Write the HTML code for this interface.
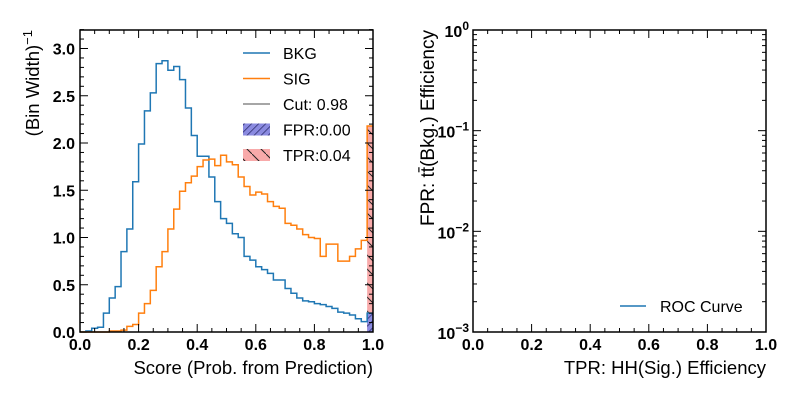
<!DOCTYPE html>
<html><head><meta charset="utf-8"><style>
body{margin:0;background:#fff;}
svg{display:block;font-family:"Liberation Sans",sans-serif;}
</style></head><body>
<svg id="c" width="800" height="400" xmlns="http://www.w3.org/2000/svg">
<defs>
<pattern id="hfpr" width="5" height="5" patternUnits="userSpaceOnUse" patternTransform="rotate(45)"><rect width="5" height="5" fill="#8a8ae0"/><line x1="0" y1="0" x2="0" y2="5" stroke="#202060" stroke-width="1.4"/></pattern>
<pattern id="htpr" width="14" height="14" patternUnits="userSpaceOnUse"><rect width="14" height="14" fill="#f8aaaa"/><line x1="0" y1="0" x2="14" y2="14" stroke="#222" stroke-width="1"/></pattern>
</defs>
</svg>
<script>
const bkg=[0,0.01,0.04,0.05,0.2,0.36,0.48,0.85,1.09,1.59,1.99,2.34,2.53,2.84,2.87,2.77,2.81,2.67,2.37,2.08,1.86,1.86,1.64,1.38,1.2,1.15,1.04,1.0,0.8,0.76,0.69,0.66,0.62,0.55,0.55,0.46,0.41,0.36,0.33,0.32,0.3,0.29,0.27,0.25,0.21,0.2,0.18,0.14,0.11,0.2];
const sig=[0,0,0,0,0,0.01,0.01,0.02,0.06,0.08,0.2,0.3,0.44,0.69,0.85,1.09,1.3,1.49,1.58,1.65,1.75,1.82,1.83,1.76,1.87,1.8,1.77,1.64,1.54,1.45,1.48,1.46,1.38,1.33,1.31,1.15,1.13,1.09,1.03,1.0,0.99,0.8,0.93,0.93,0.75,0.75,0.8,0.88,0.97,2.18];
const cut=0.98;
const xTicks=[0,0.2,0.4,0.6,0.8,1.0];
const yTicks=[0,0.5,1.0,1.5,2.0,2.5,3.0];
const logTicks=[-3,-2,-1,0];
const NS="http://www.w3.org/2000/svg";
const svg=document.getElementById('c');
function mk(t,a,p){const e=document.createElementNS(NS,t);for(const k in a)e.setAttribute(k,a[k]);(p||svg).appendChild(e);return e;}
const L={x0:80,x1:373,y0:332,y1:30};
const R={x0:473,x1:766,y0:332,y1:30};
const lx=v=>L.x0+v*(L.x1-L.x0);
const ly=v=>L.y0-v*94.5;
const rx=v=>R.x0+v*(R.x1-R.x0);
const ry=e=>R.y0-(e+3)*(R.y0-R.y1)/3;
const n=bkg.length,w=1/n;
const cutBin=Math.round(cut*n);
for(let i=cutBin;i<n;i++){
 const t=mk('rect',{x:lx(i*w),y:ly(sig[i]),width:lx((i+1)*w)-lx(i*w),height:ly(0)-ly(sig[i]),fill:'url(#htpr)'});
 
 
 const f=mk('rect',{x:lx(i*w),y:ly(bkg[i]),width:lx((i+1)*w)-lx(i*w),height:ly(0)-ly(bkg[i]),fill:'url(#hfpr)'});
 
 
}
function step(arr,col,name){
 let d='M'+lx(0)+','+ly(0);
 arr.forEach((v,i)=>{d+=' L'+lx(i*w)+','+ly(v)+' L'+lx((i+1)*w)+','+ly(v);});
 const p=mk('path',{d:d,fill:'none',stroke:col,'stroke-width':1.5});
 
 
}
step(bkg,'#1f77b4','bkg-histogram');
step(sig,'#ff7f0e','sig-histogram');
function frame(A,name){const r=mk('rect',{x:A.x0,y:A.y1,width:A.x1-A.x0,height:A.y0-A.y1,fill:'none',stroke:'#000','stroke-width':1.5});}
frame(L,'left-axes-frame');frame(R,'right-axes-frame');
function tk(x1,y1,x2,y2){mk('line',{x1,y1,x2,y2,stroke:'#000','stroke-width':1});}
function txt(x,y,s,anchor,size,name,extra){const t=mk('text',Object.assign({x,y,'text-anchor':anchor,'font-size':size,fill:'#000'},extra||{}));t.textContent=s;return t;}
[[L,lx],[R,rx]].forEach(([A,f],k)=>{
 for(let v=0;v<=1.0001;v+=0.05){const maj=Math.abs(v*5-Math.round(v*5))<1e-6;const len=maj?8:4;const x=f(v);tk(x,A.y0,x,A.y0-len);tk(x,A.y1,x,A.y1+len);}
 xTicks.forEach(v=>txt(f(v),A.y0+18,v.toFixed(1),'middle',16,k?'roc-x-tick-label':'score-x-tick-label',{'font-weight':'bold'}));
});
for(let v=0;v<=3.2001;v+=0.1){const maj=Math.abs(v*2-Math.round(v*2))<1e-6;const len=maj?8:4;const y=ly(v);tk(L.x0,y,L.x0+len,y);tk(L.x1,y,L.x1-len,y);}
yTicks.forEach(v=>txt(L.x0-5,ly(v)+6,v.toFixed(1),'end',16,'y-tick-label',{'font-weight':'bold'}));
logTicks.forEach((e,i)=>{const y=ry(e);tk(R.x0,y,R.x0+8,y);tk(R.x1,y,R.x1-8,y);
 if(i<logTicks.length-1)for(let m=2;m<10;m++){const yy=ry(e+Math.log10(m));tk(R.x0,yy,R.x0+4,yy);tk(R.x1,yy,R.x1-4,yy);}
 const t=txt(R.x0-4,y+7,'10','end',16,'log-y-tick-label',{'font-weight':'bold'});
 const s=mk('tspan',{dy:-7,'font-size':12},t);s.textContent=String(e).replace('-','−');
});
txt(L.x1,374,'Score (Prob. from Prediction)','end',18.5,'x-axis-title');
txt(R.x1,374,'TPR: HH(Sig.) Efficiency','end',18.5,'roc-x-axis-title');
const yl=txt(0,0,'(Bin Width)','end',18.5,'y-axis-title',{transform:'translate(39,30) rotate(-90)'});
const ys=mk('tspan',{dy:-7,'font-size':13},yl);ys.textContent='−1';
txt(0,0,'FPR: tt̄(Bkg.) Efficiency','end',19,'roc-y-axis-title',{transform:'translate(434,30) rotate(-90)'});
const leg=[['BKG','line','#1f77b4'],['SIG','line','#ff7f0e'],['Cut: 0.98','line','#888'],['FPR:0.00','rect','url(#hfpr)'],['TPR:0.04','rect','url(#htpr)']];
leg.forEach((e,i)=>{const y=53+i*25.5;
 if(e[1]=='line'){const l=mk('line',{x1:243,y1:y,x2:270,y2:y,stroke:e[2],'stroke-width':1.5});}
 else{const r=mk('rect',{x:243,y:y-6,width:27,height:12,fill:e[2]});}
 txt(283,y+6,e[0],'start',16,'legend-entry');
});
const rl=mk('line',{x1:620,y1:306,x2:646,y2:306,stroke:'#1f77b4','stroke-width':1.5});


txt(660,312,'ROC Curve','start',16,'roc-legend-entry');
</script>
</body></html>
